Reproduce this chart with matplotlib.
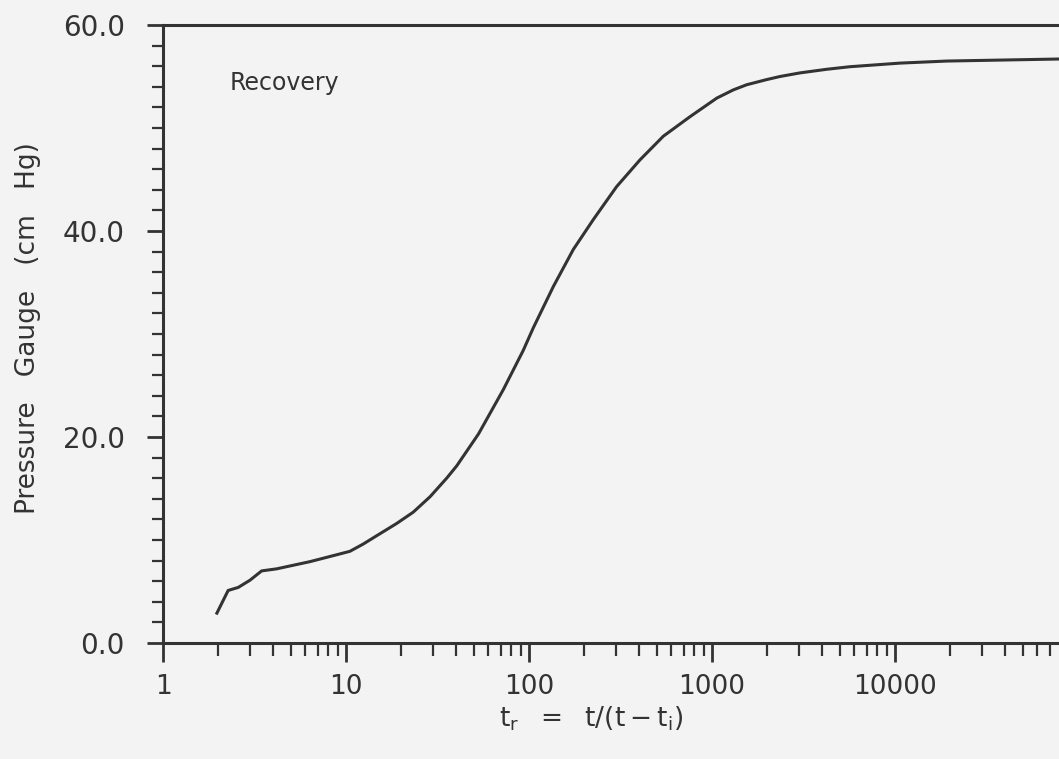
import matplotlib
matplotlib.use("Agg")
import matplotlib.pyplot as plt
from matplotlib.ticker import LogLocator, FixedLocator, MultipleLocator, NullFormatter

# 读图得到的数据
t_r = [1.97, 2.27, 2.58, 2.99, 3.46, 4.18, 6.36, 8.18, 10.5, 12.4, 15.3,
       18.9, 23.3, 28.8, 35.5, 40.3, 53, 72.4, 93, 105.6, 135.8, 174.6,
       224.5, 301, 404, 542, 759, 1062, 1308, 1548, 1991, 2354, 3027, 4235,
       5675, 10650, 19180, 80000]
pressure = [2.9, 5.1, 5.4, 6.1, 7.0, 7.2, 7.9, 8.4, 8.9, 9.6, 10.6,
            11.6, 12.7, 14.2, 16.0, 17.2, 20.3, 24.6, 28.4, 30.6, 34.6, 38.2,
            41.1, 44.3, 46.9, 49.2, 51.1, 52.9, 53.7, 54.2, 54.7, 55.0, 55.35,
            55.7, 55.95, 56.3, 56.5, 56.7]
x_ticks = [1, 10, 100, 1000, 10000]
x_labels = ['1', '10', '100', '1000', '10000']
y_ticks = [0, 20, 40, 60]
y_labels = ['0.0', '20.0', '40.0', '60.0']

ink = '#333333'
bg = '#f3f3f3'

plt.rcParams['font.family'] = ['DejaVu Sans']

fig = plt.figure(figsize=(10.59, 7.59), dpi=100, facecolor=bg)
ax = fig.add_axes([163 / 1059, 116 / 759, 1 - 163 / 1059, (643 - 25) / 759])
ax.set_facecolor(bg)

ax.plot(t_r, pressure, color=ink, lw=2.2, solid_joinstyle='round')

ax.set_xscale('log')
ax.set_xlim(1, 78800)
ax.set_ylim(0, 60)

ax.spines['right'].set_visible(False)
for s in ['left', 'bottom', 'top']:
    ax.spines[s].set_linewidth(2.2)
    ax.spines[s].set_color(ink)

ax.xaxis.set_major_locator(FixedLocator(x_ticks))
ax.set_xticklabels(x_labels)
ax.xaxis.set_minor_locator(LogLocator(base=10, subs=range(2, 10), numticks=20))
ax.xaxis.set_minor_formatter(NullFormatter())
ax.yaxis.set_major_locator(FixedLocator(y_ticks))
ax.set_yticklabels(y_labels)
ax.yaxis.set_minor_locator(MultipleLocator(2))

ax.tick_params(axis='x', which='major', direction='out', length=13.5, width=2,
               color=ink, labelsize=19, labelcolor=ink, pad=9)
ax.tick_params(axis='x', which='minor', direction='out', length=9, width=1.6,
               color=ink)
ax.tick_params(axis='y', which='major', direction='out', length=11.5, width=2,
               color=ink, labelsize=20, labelcolor=ink, pad=16)
ax.tick_params(axis='y', which='minor', direction='out', length=8, width=1.6,
               color=ink)

ax.text(2.32, 54.4, 'Recovery', fontsize=17, color=ink, ha='left', va='center')

fig.text(591 / 1059, 1 - 719 / 759, r'$\mathrm{t_r\ \ =\ \ t/(t-t_i)}$',
         fontsize=19, color=ink, ha='center', va='center')
fig.text(28 / 1059, 1 - 328 / 759, 'Pressure   Gauge   (cm   Hg)', fontsize=19,
         color=ink, rotation=90, ha='center', va='center')

plt.savefig('out.png', dpi=100, facecolor=bg)
